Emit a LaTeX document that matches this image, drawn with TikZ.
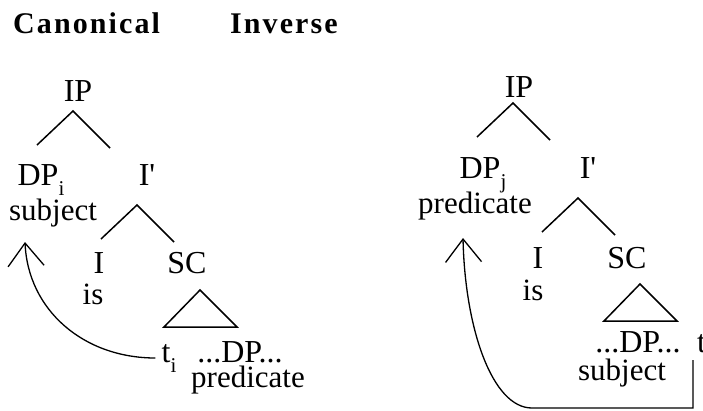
\documentclass[tikz,border=0pt]{standalone}
\usepackage{fontspec}
\setmainfont{Liberation Serif}
\usetikzlibrary{arrows.meta}
\newcommand{\lowsub}[1]{\raisebox{-10pt}{\fontsize{21}{21}\selectfont #1}}
\newcommand{\ibar}{I\textquotesingle}

\begin{document}
\begin{tikzpicture}[x=1pt,y=1pt,
  lbl/.style={anchor=base, inner sep=0pt, font=\fontsize{32}{32}\selectfont},
  word/.style={anchor=base, inner sep=0pt, font=\fontsize{31}{31}\selectfont},
  title/.style={anchor=base west, inner sep=0pt, font=\fontsize{30}{30}\selectfont\bfseries\addfontfeature{LetterSpace=7}},
  branch/.style={line width=1.5pt},
  move/.style={line width=1.3pt, -{Straight Barb[length=23pt,width=36pt,line width=1.3pt]}}
]
\useasboundingbox (0,0) rectangle (703,-410);

% titles
\node[title] (canon) at (13,-33) {Canonical};
\node[title] (inv) at (230,-33) {Inverse};

% canonical tree
\node[lbl] (IPa) at (78,-101) {IP};
\node[lbl] (DPa) at (41,-185) {DP\lowsub{i}};
\node[word] (subja) at (53,-220) {subject};
\node[lbl] (Ipa) at (147,-185) {\ibar};
\node[lbl] (Ia) at (99,-273) {I};
\node[word] (isa) at (93,-304) {is};
\node[lbl] (SCa) at (187,-273) {SC};
\node[lbl] (ta) at (169,-362) {t\lowsub{i}};
\node[lbl] (DPsa) at (240,-362) {...DP...};
\node[word] (preda) at (248,-387) {predicate};

% inverse tree
\node[lbl] (IPb) at (519,-97) {IP};
\node[lbl] (DPb) at (483,-178) {DP\lowsub{j}};
\node[word] (predb) at (475,-213) {predicate};
\node[lbl] (Ipb) at (588,-178) {\ibar};
\node[lbl] (Ib) at (538,-268) {I};
\node[word] (isb) at (533,-300) {is};
\node[lbl] (SCb) at (627,-268) {SC};
\node[lbl] (DPsb) at (638,-352) {...DP...};
\node[word] (subjb) at (622,-380) {subject};
\node[lbl, anchor=base west] (tb) at (697,-352) {t\lowsub{j}};

% branches
\foreach \n/\dx/\dy in {IPa/-5/-10, Ipa/-10/-20, IPb/-6/-6, Ipb/-10/-20} {
  \draw[branch] ([shift={(\dx,\dy)}]\n.base) +(-36,-34) -- +(0,0) -- +(37,-37);
}
% triangles
\foreach \n/\dx/\dy in {SCa/13/-17, SCb/13/-16} {
  \draw[branch] ([shift={(\dx,\dy)}]\n.base) -- ++(-36,-37) -- ++(73,0) -- cycle;
}

% movement
\draw[move] ([shift={(-6,4)}]ta.base west) .. controls +(-72,0) and +(3,-68) .. ([shift={(-28,-22)}]subja.base);
\draw[move] ([shift={(-4,-8)}]tb.base west) -- ++(0,-48) -- ++(-161,0) .. controls +(-40,0) and +(2,-90) .. ([shift={(-12,-25)}]predb.base);
\end{tikzpicture}
\end{document}
